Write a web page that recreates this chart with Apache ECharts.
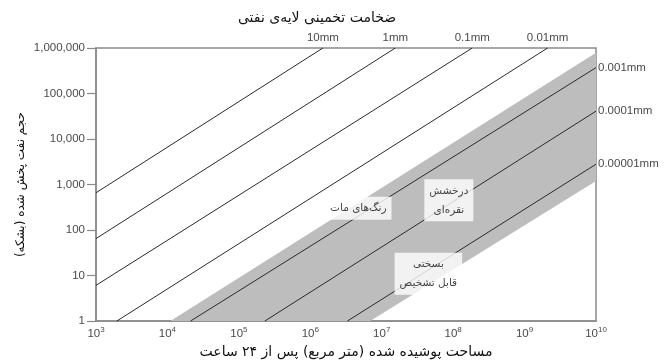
<!DOCTYPE html>
<html>
<head>
<meta charset="utf-8">
<script src="https://cdn.jsdelivr.net/npm/echarts@6/dist/echarts.min.js"></script>
<style>
  html, body { margin: 0; padding: 0; background: #fff; }
  #chart { width: 665px; height: 364px; }
</style>
</head>
<body>
<div id="chart"></div>
<script>
// Thickness lines: name, start point and end point (area m², volume barrels)
const thicknessNames = ['10mm', '1mm', '0.1mm', '0.01mm', '0.001mm', '0.0001mm', '0.00001mm'];
const lineStart = [[1000, 660], [1000, 65], [1000, 6.1], [1950, 1], [2.1e4, 1], [2.3e5, 1], [3.3e6, 1]];
const lineEnd = [[1.5e6, 1e6], [1.55e7, 1e6], [1.85e8, 1e6], [2.1e9, 1e6], [1e10, 3.7e5], [1e10, 4.1e4], [1e10, 2800]];

// Shaded band (upper and lower edges)
const bandUpper = [[1.1e4, 1], [1e10, 7.9e5]];
const bandLower = [[6.9e6, 1], [1e10, 1200]];

// Region notes inside the plot
const regionNames = ['رنگ‌های مات', 'درخشش\nنقره‌ای', 'بسختی\nقابل تشخیص'];
const regionPos = [[4.7e6, 300], [8.7e7, 450], [4.5e7, 11]];

// Axis range
const xMin = 1e3, xMax = 1e10;
const yMin = 1, yMax = 1e6;

const titleText = 'ضخامت تخمینی لایه‌ی نفتی';
const xName = 'مساحت پوشیده شده (متر مربع) پس از ۲۴ ساعت';
const yName = 'حجم نفت پخش شده (بشکه)';

const faFont = 'DejaVu Sans';
const numFont = 'Liberation Sans, Arial, sans-serif';
const frameColor = '#8a8a8a';
const numColor = '#4a4a4a';

const bandPoly = [bandUpper[0], bandUpper[1], bandLower[1], bandLower[0]];

const lineSeries = thicknessNames.map((name, i) => {
  const endsTop = lineEnd[i][1] >= yMax;
  return {
    type: 'line',
    name: name,
    z: 3,
    symbol: 'circle',
    symbolSize: 0,
    showSymbol: true,
    silent: true,
    lineStyle: { color: '#2a2a2a', width: 1 },
    data: [
      { value: lineStart[i] },
      {
        value: lineEnd[i],
        label: {
          show: true,
          formatter: name,
          position: endsTop ? 'top' : 'right',
          distance: endsTop ? 4 : 2,
          color: numColor,
          fontSize: 11.5,
          fontFamily: numFont
        }
      }
    ]
  };
});

const chart = echarts.init(document.getElementById('chart'), null, { renderer: 'canvas' });
chart.setOption({
  animation: false,
  backgroundColor: '#fff',
  title: {
    text: titleText,
    left: 312,
    top: 6,
    textAlign: 'center',
    textStyle: { fontFamily: faFont, fontSize: 14, fontWeight: 'normal', color: '#111' }
  },
  grid: {
    left: 96, right: 69, top: 48, bottom: 41,
    show: true, borderColor: frameColor, borderWidth: 1.5, backgroundColor: 'transparent'
  },
  xAxis: {
    type: 'log', logBase: 10, min: xMin, max: xMax, splitNumber: 7,
    name: xName, nameLocation: 'middle', nameGap: 21,
    nameTextStyle: { fontFamily: faFont, fontSize: 14, color: '#111' },
    axisLine: { lineStyle: { color: frameColor, width: 1.5 } },
    axisTick: { show: false },
    splitLine: { show: false },
    axisLabel: {
      margin: 5,
      color: numColor,
      fontFamily: numFont,
      fontSize: 11.5,
      formatter: v => '10{s|' + Math.round(Math.log10(v)) + '}',
      rich: { s: { fontSize: 8, fontFamily: numFont, color: numColor, padding: [0, 0, 8, 0] } }
    }
  },
  yAxis: {
    type: 'log', logBase: 10, min: yMin, max: yMax, splitNumber: 6,
    name: yName, nameLocation: 'middle', nameGap: 69, nameMoveOverlap: false,
    nameTextStyle: { fontFamily: faFont, fontSize: 12, color: '#111' },
    axisLine: { lineStyle: { color: frameColor, width: 1.5 } },
    axisTick: { show: true, inside: false, length: 9, lineStyle: { color: frameColor, width: 1.2 } },
    splitLine: { show: false },
    axisLabel: {
      margin: 11,
      color: numColor,
      fontFamily: numFont,
      fontSize: 11.5,
      formatter: v => Math.round(v).toLocaleString('en-US')
    }
  },
  series: [
    {
      type: 'custom',
      z: 1,
      silent: true,
      data: [bandPoly[0]],
      renderItem: (params, api) => ({
        type: 'polygon',
        shape: { points: bandPoly.map(p => api.coord(p)) },
        style: { fill: '#bdbdbd' }
      })
    },
    ...lineSeries,
    {
      type: 'scatter',
      z: 5,
      silent: true,
      symbolSize: 0,
      data: regionNames.map((n, i) => ({ name: n, value: regionPos[i] })),
      label: {
        show: true,
        position: 'inside',
        formatter: p => p.name,
        fontFamily: faFont,
        fontSize: 10.5,
        lineHeight: 19,
        color: '#111',
        backgroundColor: '#fff',
        padding: [2, 5, 2, 5],
        align: 'center'
      }
    }
  ]
});
</script>
</body>
</html>
